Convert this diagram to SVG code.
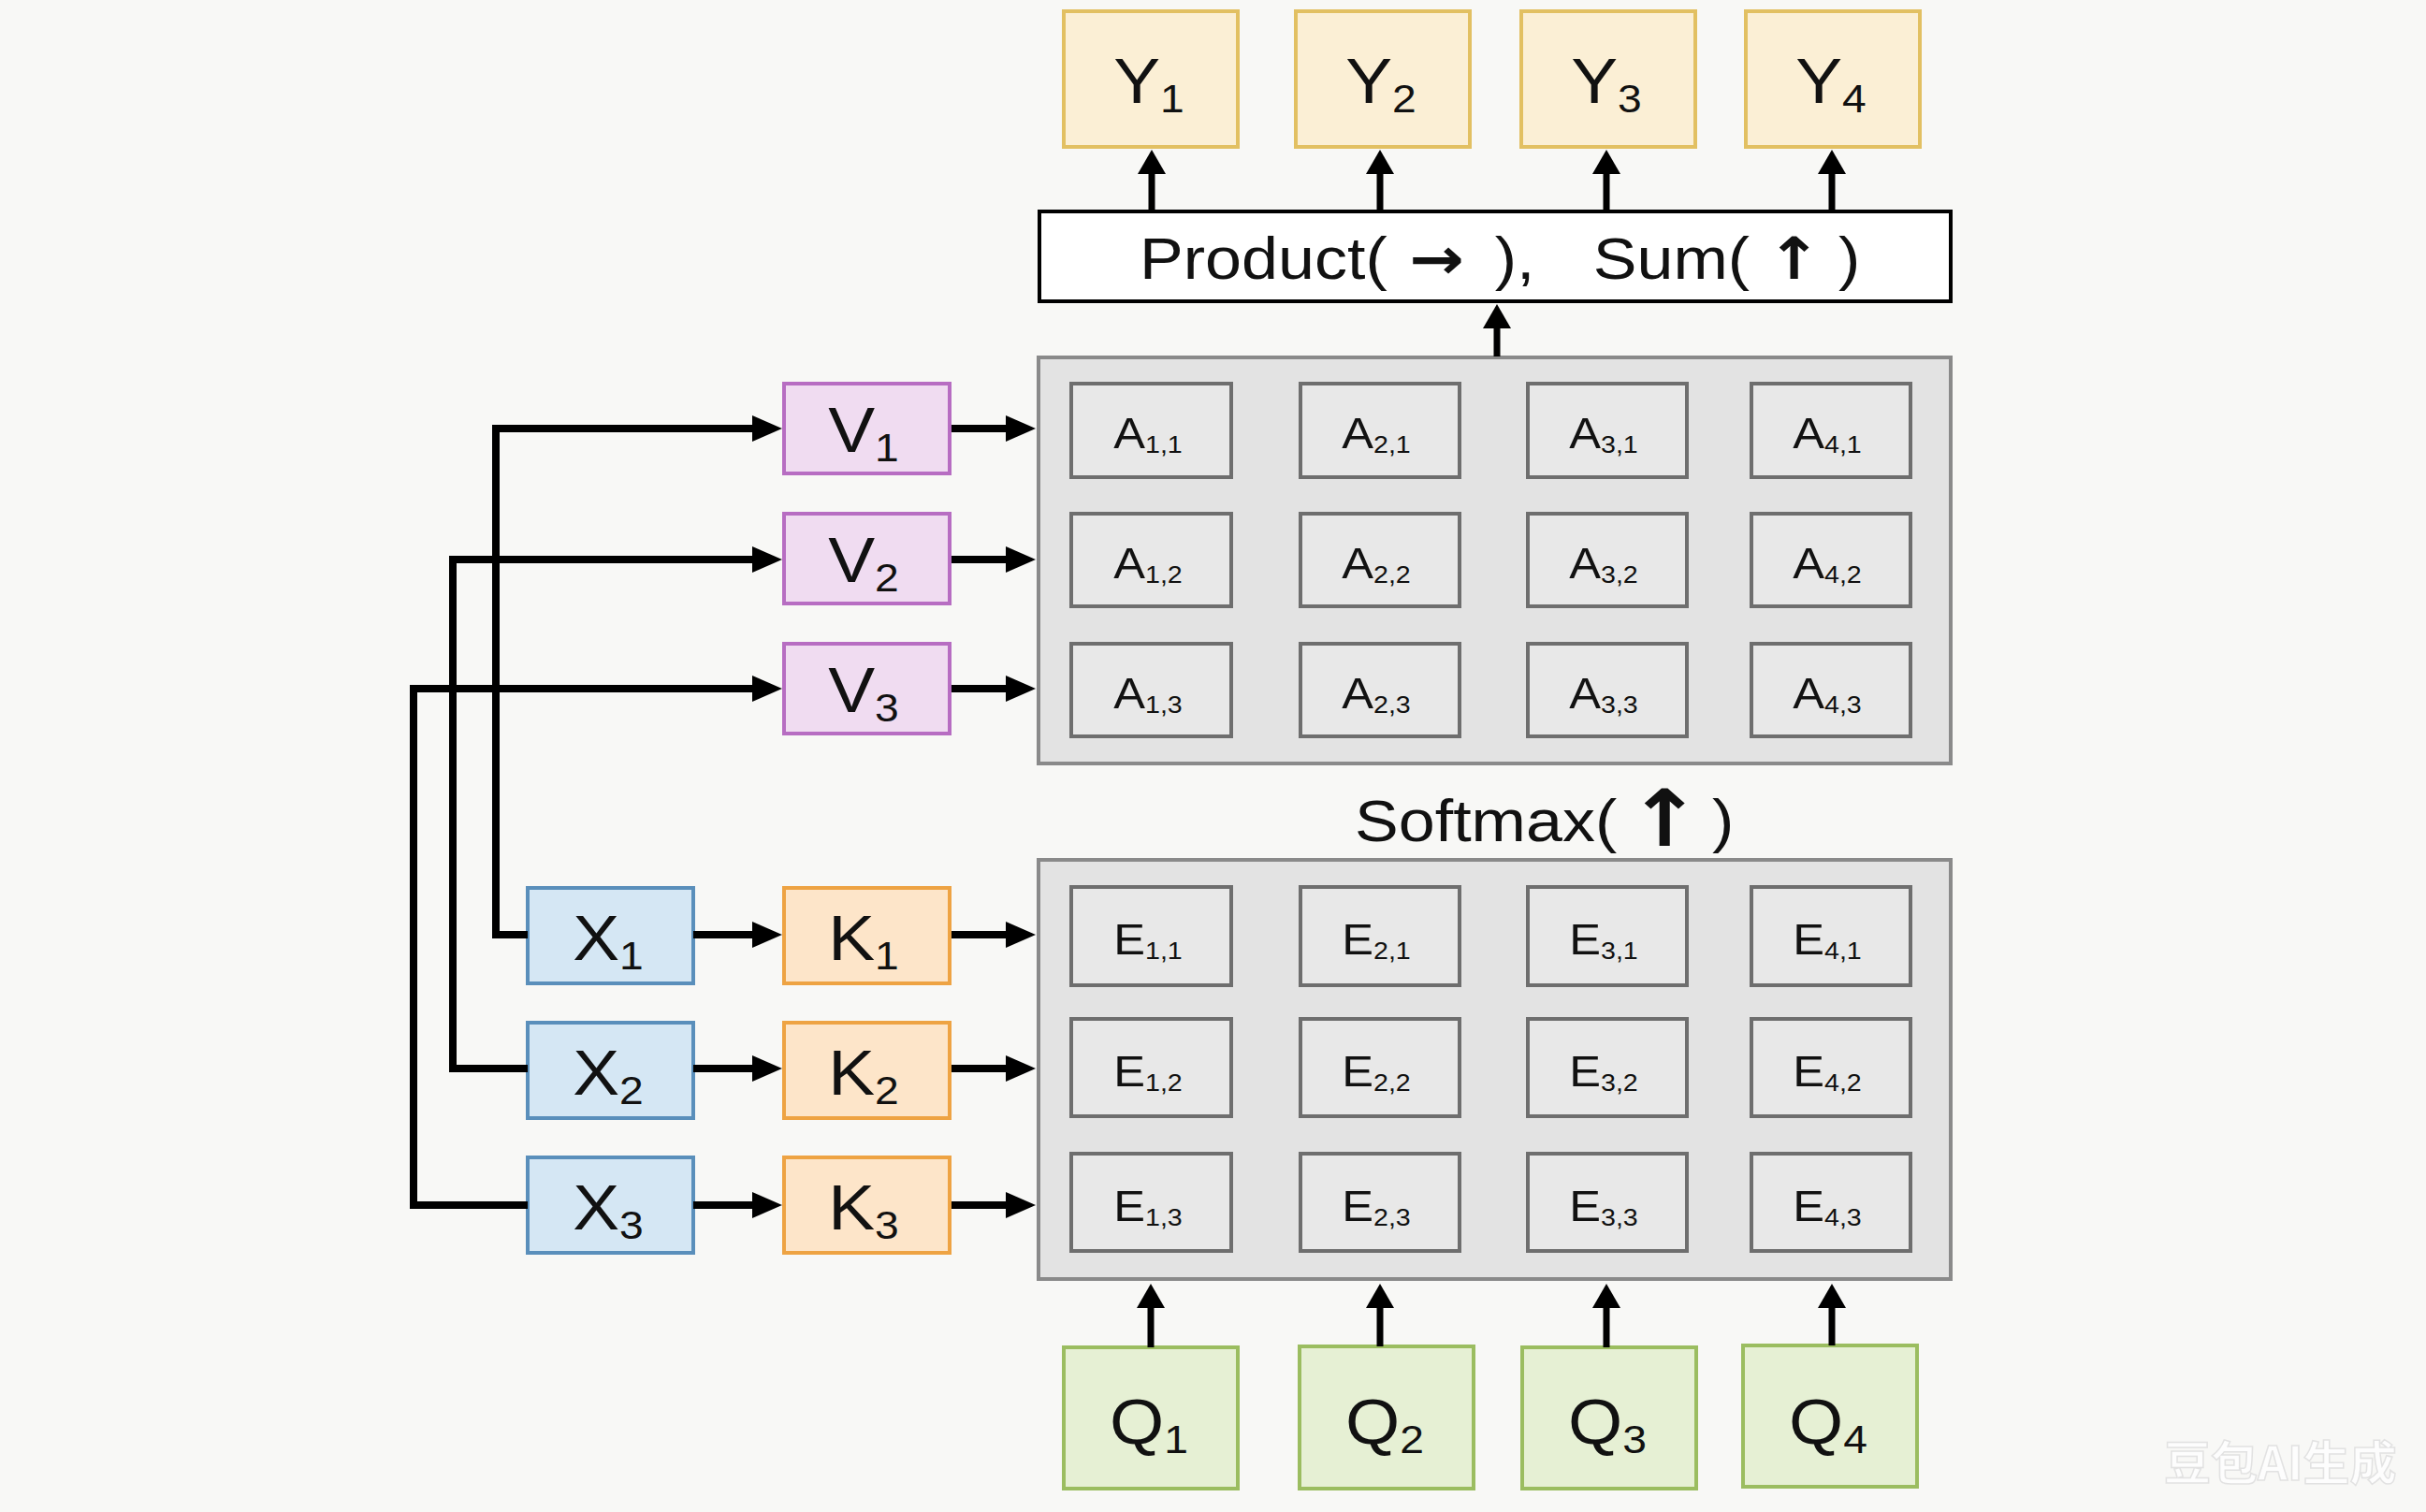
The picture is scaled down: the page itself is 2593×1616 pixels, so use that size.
<svg xmlns="http://www.w3.org/2000/svg" width="2593" height="1616" viewBox="0 0 2593 1616">
<style>
text{font-family:"Liberation Sans",Arial,sans-serif;fill:#111;}
.big{font-size:68px;}
.sub{font-size:42px;}
.cell text{font-size:46px;}
.csub{font-size:26px;}
.lbl{font-size:62px;}
.sym{font-family:"DejaVu Sans",sans-serif;font-weight:bold;}
.y rect{fill:#fbefd5;stroke:#e2c062;stroke-width:4;}
.v rect{fill:#f0dcf1;stroke:#b76dc2;stroke-width:4;}
.x rect{fill:#d5e7f4;stroke:#5a8fbb;stroke-width:4;}
.k rect{fill:#fde5c9;stroke:#eea343;stroke-width:4;}
.q rect{fill:#e6f0d4;stroke:#9bbd60;stroke-width:4;}
.panel{fill:#e3e3e3;stroke:#8a8a8a;stroke-width:4;}
.cell rect{fill:#e8e8e8;stroke:#6e6e6e;stroke-width:4;}
.c{fill:none;stroke:#000;stroke-width:8;stroke-linejoin:miter;}
.cu{fill:none;stroke:#000;stroke-width:7;}
</style>
<defs>
<marker id="ah" markerUnits="userSpaceOnUse" viewBox="0 0 32 28" markerWidth="32" markerHeight="28" refX="1" refY="14" orient="auto"><path d="M0,0 L32,14 L0,28z" fill="#000"/></marker>
<marker id="au" markerUnits="userSpaceOnUse" viewBox="0 0 26 30" markerWidth="26" markerHeight="30" refX="1" refY="15" orient="auto"><path d="M0,0 L26,15 L0,30z" fill="#000"/></marker>
</defs>
<rect x="0" y="0" width="2593" height="1616" fill="#f8f8f6"/>

<!-- Y outputs -->
<g id="Y1" class="y"><rect x="1137" y="12" width="186" height="145"/><text class="big" text-anchor="middle" transform="matrix(1.1 0 0 1 1228 110)">Y<tspan class="sub" dy="10">1</tspan></text></g>
<g id="Y2" class="y"><rect x="1385" y="12" width="186" height="145"/><text class="big" text-anchor="middle" transform="matrix(1.1 0 0 1 1476 110)">Y<tspan class="sub" dy="10">2</tspan></text></g>
<g id="Y3" class="y"><rect x="1626" y="12" width="186" height="145"/><text class="big" text-anchor="middle" transform="matrix(1.1 0 0 1 1717 110)">Y<tspan class="sub" dy="10">3</tspan></text></g>
<g id="Y4" class="y"><rect x="1866" y="12" width="186" height="145"/><text class="big" text-anchor="middle" transform="matrix(1.1 0 0 1 1957 110)">Y<tspan class="sub" dy="10">4</tspan></text></g>

<!-- Product / Sum box -->
<g id="productSum"><rect x="1111" y="226" width="974" height="96" fill="#fff" stroke="#000" stroke-width="4"/>
<text class="lbl" transform="matrix(1.13 0 0 1 1218 298)">Product(<tspan class="sym" x="255">→</tspan><tspan x="336">),</tspan><tspan x="429">Sum(</tspan><tspan class="sym" x="593">↑</tspan><tspan x="661">)</tspan></text></g>

<!-- A panel -->
<g id="Apanel"><rect class="panel" x="1110" y="382" width="975" height="434"/></g>
<g id="A11" class="cell"><rect x="1145" y="410" width="171" height="100"/><text text-anchor="middle" transform="matrix(1.1 0 0 1 1227 479)">A<tspan class="csub" dy="5">1,1</tspan></text></g>
<g id="A21" class="cell"><rect x="1390" y="410" width="170" height="100"/><text text-anchor="middle" transform="matrix(1.1 0 0 1 1471 479)">A<tspan class="csub" dy="5">2,1</tspan></text></g>
<g id="A31" class="cell"><rect x="1633" y="410" width="170" height="100"/><text text-anchor="middle" transform="matrix(1.1 0 0 1 1714 479)">A<tspan class="csub" dy="5">3,1</tspan></text></g>
<g id="A41" class="cell"><rect x="1872" y="410" width="170" height="100"/><text text-anchor="middle" transform="matrix(1.1 0 0 1 1953 479)">A<tspan class="csub" dy="5">4,1</tspan></text></g>
<g id="A12" class="cell"><rect x="1145" y="549" width="171" height="99"/><text text-anchor="middle" transform="matrix(1.1 0 0 1 1227 618)">A<tspan class="csub" dy="5">1,2</tspan></text></g>
<g id="A22" class="cell"><rect x="1390" y="549" width="170" height="99"/><text text-anchor="middle" transform="matrix(1.1 0 0 1 1471 618)">A<tspan class="csub" dy="5">2,2</tspan></text></g>
<g id="A32" class="cell"><rect x="1633" y="549" width="170" height="99"/><text text-anchor="middle" transform="matrix(1.1 0 0 1 1714 618)">A<tspan class="csub" dy="5">3,2</tspan></text></g>
<g id="A42" class="cell"><rect x="1872" y="549" width="170" height="99"/><text text-anchor="middle" transform="matrix(1.1 0 0 1 1953 618)">A<tspan class="csub" dy="5">4,2</tspan></text></g>
<g id="A13" class="cell"><rect x="1145" y="688" width="171" height="99"/><text text-anchor="middle" transform="matrix(1.1 0 0 1 1227 757)">A<tspan class="csub" dy="5">1,3</tspan></text></g>
<g id="A23" class="cell"><rect x="1390" y="688" width="170" height="99"/><text text-anchor="middle" transform="matrix(1.1 0 0 1 1471 757)">A<tspan class="csub" dy="5">2,3</tspan></text></g>
<g id="A33" class="cell"><rect x="1633" y="688" width="170" height="99"/><text text-anchor="middle" transform="matrix(1.1 0 0 1 1714 757)">A<tspan class="csub" dy="5">3,3</tspan></text></g>
<g id="A43" class="cell"><rect x="1872" y="688" width="170" height="99"/><text text-anchor="middle" transform="matrix(1.1 0 0 1 1953 757)">A<tspan class="csub" dy="5">4,3</tspan></text></g>

<!-- Softmax label -->
<g id="softmax"><text class="lbl" transform="matrix(1.13 0 0 1 1448 899)">Softmax(<tspan class="sym" x="258" dy="5" style="font-size:84px">↑</tspan><tspan x="338" dy="-5">)</tspan></text></g>

<!-- E panel -->
<g id="Epanel"><rect class="panel" x="1110" y="919" width="975" height="448"/></g>
<g id="E11" class="cell"><rect x="1145" y="948" width="171" height="105"/><text text-anchor="middle" transform="matrix(1.1 0 0 1 1227 1020)">E<tspan class="csub" dy="5">1,1</tspan></text></g>
<g id="E21" class="cell"><rect x="1390" y="948" width="170" height="105"/><text text-anchor="middle" transform="matrix(1.1 0 0 1 1471 1020)">E<tspan class="csub" dy="5">2,1</tspan></text></g>
<g id="E31" class="cell"><rect x="1633" y="948" width="170" height="105"/><text text-anchor="middle" transform="matrix(1.1 0 0 1 1714 1020)">E<tspan class="csub" dy="5">3,1</tspan></text></g>
<g id="E41" class="cell"><rect x="1872" y="948" width="170" height="105"/><text text-anchor="middle" transform="matrix(1.1 0 0 1 1953 1020)">E<tspan class="csub" dy="5">4,1</tspan></text></g>
<g id="E12" class="cell"><rect x="1145" y="1089" width="171" height="104"/><text text-anchor="middle" transform="matrix(1.1 0 0 1 1227 1161)">E<tspan class="csub" dy="5">1,2</tspan></text></g>
<g id="E22" class="cell"><rect x="1390" y="1089" width="170" height="104"/><text text-anchor="middle" transform="matrix(1.1 0 0 1 1471 1161)">E<tspan class="csub" dy="5">2,2</tspan></text></g>
<g id="E32" class="cell"><rect x="1633" y="1089" width="170" height="104"/><text text-anchor="middle" transform="matrix(1.1 0 0 1 1714 1161)">E<tspan class="csub" dy="5">3,2</tspan></text></g>
<g id="E42" class="cell"><rect x="1872" y="1089" width="170" height="104"/><text text-anchor="middle" transform="matrix(1.1 0 0 1 1953 1161)">E<tspan class="csub" dy="5">4,2</tspan></text></g>
<g id="E13" class="cell"><rect x="1145" y="1233" width="171" height="104"/><text text-anchor="middle" transform="matrix(1.1 0 0 1 1227 1305)">E<tspan class="csub" dy="5">1,3</tspan></text></g>
<g id="E23" class="cell"><rect x="1390" y="1233" width="170" height="104"/><text text-anchor="middle" transform="matrix(1.1 0 0 1 1471 1305)">E<tspan class="csub" dy="5">2,3</tspan></text></g>
<g id="E33" class="cell"><rect x="1633" y="1233" width="170" height="104"/><text text-anchor="middle" transform="matrix(1.1 0 0 1 1714 1305)">E<tspan class="csub" dy="5">3,3</tspan></text></g>
<g id="E43" class="cell"><rect x="1872" y="1233" width="170" height="104"/><text text-anchor="middle" transform="matrix(1.1 0 0 1 1953 1305)">E<tspan class="csub" dy="5">4,3</tspan></text></g>

<!-- V nodes -->
<g id="V1" class="v"><rect x="838" y="410" width="177" height="96"/><text class="big" text-anchor="middle" transform="matrix(1.1 0 0 1 923 483)">V<tspan class="sub" dy="10">1</tspan></text></g>
<g id="V2" class="v"><rect x="838" y="549" width="177" height="96"/><text class="big" text-anchor="middle" transform="matrix(1.1 0 0 1 923 622)">V<tspan class="sub" dy="10">2</tspan></text></g>
<g id="V3" class="v"><rect x="838" y="688" width="177" height="96"/><text class="big" text-anchor="middle" transform="matrix(1.1 0 0 1 923 761)">V<tspan class="sub" dy="10">3</tspan></text></g>

<!-- X nodes -->
<g id="X1" class="x"><rect x="564" y="949" width="177" height="102"/><text class="big" text-anchor="middle" transform="matrix(1.1 0 0 1 650 1026)">X<tspan class="sub" dy="10">1</tspan></text></g>
<g id="X2" class="x"><rect x="564" y="1093" width="177" height="102"/><text class="big" text-anchor="middle" transform="matrix(1.1 0 0 1 650 1170)">X<tspan class="sub" dy="10">2</tspan></text></g>
<g id="X3" class="x"><rect x="564" y="1237" width="177" height="102"/><text class="big" text-anchor="middle" transform="matrix(1.1 0 0 1 650 1314)">X<tspan class="sub" dy="10">3</tspan></text></g>

<!-- K nodes -->
<g id="K1" class="k"><rect x="838" y="949" width="177" height="102"/><text class="big" text-anchor="middle" transform="matrix(1.1 0 0 1 923 1026)">K<tspan class="sub" dy="10">1</tspan></text></g>
<g id="K2" class="k"><rect x="838" y="1093" width="177" height="102"/><text class="big" text-anchor="middle" transform="matrix(1.1 0 0 1 923 1170)">K<tspan class="sub" dy="10">2</tspan></text></g>
<g id="K3" class="k"><rect x="838" y="1237" width="177" height="102"/><text class="big" text-anchor="middle" transform="matrix(1.1 0 0 1 923 1314)">K<tspan class="sub" dy="10">3</tspan></text></g>

<!-- Q nodes -->
<g id="Q1" class="q"><rect x="1137" y="1440" width="186" height="151"/><text class="big" text-anchor="middle" transform="matrix(1.1 0 0 1 1228 1543)">Q<tspan class="sub" dy="10">1</tspan></text></g>
<g id="Q2" class="q"><rect x="1389" y="1439" width="186" height="152"/><text class="big" text-anchor="middle" transform="matrix(1.1 0 0 1 1480 1543)">Q<tspan class="sub" dy="10">2</tspan></text></g>
<g id="Q3" class="q"><rect x="1627" y="1440" width="186" height="151"/><text class="big" text-anchor="middle" transform="matrix(1.1 0 0 1 1718 1543)">Q<tspan class="sub" dy="10">3</tspan></text></g>
<g id="Q4" class="q"><rect x="1863" y="1438" width="186" height="151"/><text class="big" text-anchor="middle" transform="matrix(1.1 0 0 1 1954 1543)">Q<tspan class="sub" dy="10">4</tspan></text></g>

<!-- connectors -->
<g id="connectors">
<path class="c" d="M564,999 H530 V458 H805" marker-end="url(#ah)"/>
<path class="c" d="M564,1142 H484 V598 H805" marker-end="url(#ah)"/>
<path class="c" d="M564,1288 H442 V736 H805" marker-end="url(#ah)"/>
<path class="c" d="M741,999 H805" marker-end="url(#ah)"/>
<path class="c" d="M741,1142 H805" marker-end="url(#ah)"/>
<path class="c" d="M741,1288 H805" marker-end="url(#ah)"/>
<path class="c" d="M1017,458 H1076" marker-end="url(#ah)"/>
<path class="c" d="M1017,598 H1076" marker-end="url(#ah)"/>
<path class="c" d="M1017,736 H1076" marker-end="url(#ah)"/>
<path class="c" d="M1017,999 H1076" marker-end="url(#ah)"/>
<path class="c" d="M1017,1142 H1076" marker-end="url(#ah)"/>
<path class="c" d="M1017,1288 H1076" marker-end="url(#ah)"/>
<path class="cu" d="M1230,1440 V1397" marker-end="url(#au)"/>
<path class="cu" d="M1475,1439 V1397" marker-end="url(#au)"/>
<path class="cu" d="M1717,1440 V1397" marker-end="url(#au)"/>
<path class="cu" d="M1958,1438 V1397" marker-end="url(#au)"/>
<path class="cu" d="M1600,381 V350" marker-end="url(#au)"/>
<path class="cu" d="M1231,224 V185" marker-end="url(#au)"/>
<path class="cu" d="M1475,224 V185" marker-end="url(#au)"/>
<path class="cu" d="M1717,224 V185" marker-end="url(#au)"/>
<path class="cu" d="M1958,224 V185" marker-end="url(#au)"/>
</g>

<text x="2313" y="1582" font-size="50" font-weight="bold" style="font-family:'Noto Sans CJK SC',sans-serif;fill:#fdfdfd;stroke:#e2e2e2;stroke-width:1.5">豆包AI生成</text>
</svg>
